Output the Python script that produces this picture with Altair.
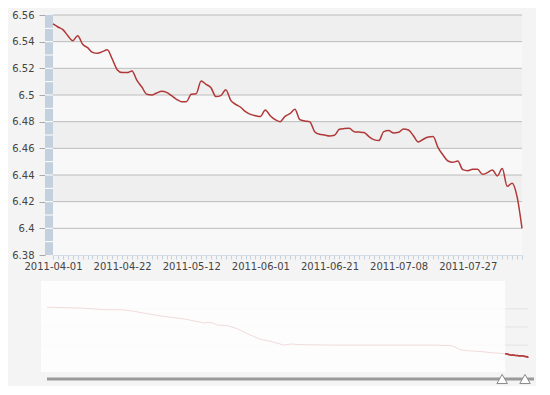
import json
import altair as alt
import pandas as pd

# ---------------- data ----------------
dates = [
    "2011-04-01", "2011-04-02", "2011-04-06", "2011-04-07", "2011-04-08",
    "2011-04-11", "2011-04-12", "2011-04-13", "2011-04-14", "2011-04-15",
    "2011-04-18", "2011-04-19", "2011-04-20", "2011-04-21", "2011-04-22",
    "2011-04-25", "2011-04-26", "2011-04-27", "2011-04-28", "2011-04-29",
    "2011-05-02", "2011-05-03", "2011-05-04", "2011-05-05", "2011-05-06",
    "2011-05-09", "2011-05-10", "2011-05-11", "2011-05-12", "2011-05-13",
    "2011-05-16", "2011-05-17", "2011-05-18", "2011-05-19", "2011-05-20",
    "2011-05-23", "2011-05-24", "2011-05-25", "2011-05-26", "2011-05-27",
    "2011-05-30", "2011-05-31", "2011-06-01", "2011-06-02", "2011-06-03",
    "2011-06-06", "2011-06-07", "2011-06-08", "2011-06-09", "2011-06-10",
    "2011-06-13", "2011-06-14", "2011-06-15", "2011-06-16", "2011-06-17",
    "2011-06-20", "2011-06-21", "2011-06-22", "2011-06-23", "2011-06-24",
    "2011-06-27", "2011-06-28", "2011-06-29", "2011-06-30", "2011-07-01",
    "2011-07-02", "2011-07-04", "2011-07-05", "2011-07-06", "2011-07-07",
    "2011-07-08", "2011-07-11", "2011-07-12", "2011-07-13", "2011-07-14",
    "2011-07-15", "2011-07-18", "2011-07-19", "2011-07-20", "2011-07-21",
    "2011-07-22", "2011-07-23", "2011-07-25", "2011-07-26", "2011-07-27",
    "2011-07-28", "2011-07-29", "2011-08-01", "2011-08-02", "2011-08-03",
    "2011-08-04", "2011-08-05", "2011-08-08", "2011-08-09", "2011-08-10",
    "2011-08-11",
]
rates = [
    6.5533, 6.5510, 6.5490, 6.5445, 6.5407, 6.5445, 6.5380, 6.5355, 6.5320, 6.5313,
    6.5325, 6.5340, 6.5270, 6.5190, 6.5168, 6.5168, 6.5180, 6.5110, 6.5060, 6.5005,
    6.5000, 6.5015, 6.5028, 6.5020, 6.4995, 6.4968, 6.4950, 6.4950, 6.5005, 6.5010,
    6.5105, 6.5080, 6.5055, 6.4988, 6.4995, 6.5040, 6.4960, 6.4930, 6.4908, 6.4875,
    6.4855, 6.4845, 6.4838, 6.4888, 6.4845, 6.4815, 6.4800, 6.4840, 6.4860, 6.4893,
    6.4815, 6.4805, 6.4800, 6.4725, 6.4705, 6.4700, 6.4693, 6.4698, 6.4743, 6.4748,
    6.4750, 6.4725, 6.4722, 6.4718, 6.4688, 6.4665, 6.4658, 6.4725, 6.4733, 6.4715,
    6.4720, 6.4745, 6.4738, 6.4695, 6.4648, 6.4668, 6.4685, 6.4688, 6.4605, 6.4550,
    6.4505, 6.4495, 6.4505, 6.4440, 6.4432, 6.4443, 6.4443, 6.4405, 6.4418, 6.4438,
    6.4393, 6.4448, 6.4315, 6.4338, 6.4238, 6.4000,
]
x_labels = ["2011-04-01", "2011-04-22", "2011-05-12", "2011-06-01",
            "2011-06-21", "2011-07-08", "2011-07-27"]
y_ticks = [6.38, 6.40, 6.42, 6.44, 6.46, 6.48, 6.50, 6.52, 6.54, 6.56]
bar_marks = [6.39, 6.40, 6.41, 6.42, 6.43, 6.44, 6.45, 6.46, 6.47,
             6.48, 6.49, 6.50, 6.51, 6.52, 6.53, 6.54, 6.55]
band_lo = [6.54, 6.50, 6.46, 6.42]
band_hi = [6.56, 6.52, 6.48, 6.44]

# longer history shown in the navigator
hist_dates = [
    "2004-01-02", "2004-07-15", "2004-11-25", "2005-03-20", "2005-05-18",
    "2005-10-05", "2005-12-18", "2006-03-03", "2006-06-25", "2006-08-05",
    "2006-09-13", "2006-11-10", "2007-01-07", "2007-03-07", "2007-05-21",
    "2007-07-17", "2007-10-01", "2007-11-10", "2008-01-08", "2008-06-28",
    "2009-04-12", "2010-02-14", "2010-05-22", "2010-06-10", "2010-07-20",
    "2010-08-29", "2010-11-14", "2011-01-27", "2011-03-20",
]
hist_rates = [
    8.27, 8.24, 8.18, 8.17, 8.12,
    7.96, 7.90, 7.84, 7.69, 7.71,
    7.61, 7.59, 7.47, 7.28, 7.08,
    7.01, 6.87, 6.91, 6.885, 6.87,
    6.87, 6.87, 6.85, 6.81, 6.69,
    6.66, 6.63, 6.58, 6.56,
]
nav_grid = [8.21, 7.54, 6.87]
nav_domain = [5.875, 9.24]

# ---------------- style ----------------
W, H = 469, 240
NH = 91
FONT = "DejaVu Sans"
LINE = "#b03838"
LABEL = "#444444"


def dt(s):
    y, m, d = (int(p) for p in s.split("-"))
    return alt.DateTime(year=y, month=m, date=d, utc=True)


main_df = pd.DataFrame({"day": dates, "rate": rates})
y_scale = alt.Scale(domain=[y_ticks[0], y_ticks[-1]], nice=False, zero=False)
y_axis = alt.Axis(values=y_ticks, format="~g", offset=8, tickSize=6,
                  tickColor="#a8a8a8", domain=False, grid=False,
                  labelFontSize=10, labelColor=LABEL, labelPadding=5,
                  labelFont=FONT, title=None)
label_list = json.dumps(x_labels)
x_axis = alt.Axis(title=None, labelAngle=0, labelOverlap=False,
                  labelExpr=f"indexof({label_list}, datum.value) >= 0 ? datum.value : ''",
                  tickSize=4, tickColor="#c4d2e0", domainColor="#d3dde8",
                  labelFontSize=10, labelColor=LABEL, labelPadding=2,
                  labelFont=FONT, grid=False)

one = pd.DataFrame({"a": [0]})

bg = alt.Chart(one).mark_rect(color="#f8f8f8").encode(
    x=alt.value(0), x2=alt.value(W), y=alt.value(0), y2=alt.value(H))

bands = alt.Chart(pd.DataFrame({"lo": band_lo, "hi": band_hi})).mark_rect(
    color="#efefef").encode(
    x=alt.value(0), x2=alt.value(W),
    y=alt.Y("lo:Q", scale=y_scale, axis=y_axis), y2="hi:Q")

grid = alt.Chart(pd.DataFrame({"v": y_ticks[1:]})).mark_rule(
    color="#bcbcbc", strokeWidth=1).encode(
    x=alt.value(0), x2=alt.value(W),
    y=alt.Y("v:Q", scale=y_scale, axis=y_axis))

bar = alt.Chart(pd.DataFrame({"lo": [y_ticks[0]], "hi": [y_ticks[-1]]})).mark_rect(
    color="#c3d1df").encode(
    x=alt.value(-8), x2=alt.value(0),
    y=alt.Y("lo:Q", scale=y_scale, axis=y_axis), y2="hi:Q")

bar_ticks = alt.Chart(pd.DataFrame({"v": bar_marks})).mark_rule(
    color="#ffffff", strokeWidth=1).encode(
    x=alt.value(-8), x2=alt.value(0),
    y=alt.Y("v:Q", scale=y_scale, axis=y_axis))

line = alt.Chart(main_df).mark_line(
    color=LINE, strokeWidth=1.5, interpolate="monotone").encode(
    x=alt.X("day:O", sort=None, scale=alt.Scale(type="point", padding=0), axis=x_axis),
    y=alt.Y("rate:Q", scale=y_scale, axis=y_axis))

main = alt.layer(bg, bands, grid, bar, bar_ticks, line).properties(width=W, height=H)

# ---------------- navigator ----------------
nav_df = pd.DataFrame({"date": hist_dates + dates, "rate": hist_rates + rates})
sel_df = pd.DataFrame({"sdate": dates, "srate": rates})
nav_x = alt.Scale(domain=[dt(hist_dates[0]), dt(dates[-1])], range=[-6, W + 6])
nav_y = alt.Scale(domain=nav_domain, nice=False, zero=False)

nav_gridlines = alt.Chart(pd.DataFrame({"v": nav_grid})).mark_rule(
    color="#e3e3e3", strokeWidth=1).encode(
    x=alt.value(-12), x2=alt.value(W + 6),
    y=alt.Y("v:Q", scale=nav_y, axis=None))

nav_line = alt.Chart(nav_df).mark_line(color=LINE, strokeWidth=1).encode(
    x=alt.X("date:T", scale=nav_x, axis=None),
    y=alt.Y("rate:Q", scale=nav_y, axis=None))

mask = alt.Chart(pd.DataFrame({"s": [hist_dates[0]], "e": [dates[0]]})).mark_rect(
    color="#ffffff", opacity=0.82, xOffset=-6).encode(
    x=alt.X("s:T", scale=nav_x, axis=None), x2="e:T",
    y=alt.value(0), y2=alt.value(NH))

nav_sel = alt.Chart(sel_df).mark_line(color=LINE, strokeWidth=1.5).encode(
    x=alt.X("sdate:T", scale=nav_x, axis=None),
    y=alt.Y("srate:Q", scale=nav_y, axis=None))

scrollbar = alt.Chart(one).mark_rule(color="#9a9a9a", strokeWidth=3).encode(
    x=alt.value(-6), x2=alt.value(W + 12), y=alt.value(NH + 7))

handles = alt.Chart(pd.DataFrame({"hdate": [dates[0], dates[-1]]})).mark_point(
    shape="triangle-up", filled=True, fill="#ffffff", stroke="#8a8a8a",
    strokeWidth=1, size=110, opacity=1, xOffset=-3).encode(
    x=alt.X("hdate:T", scale=nav_x, axis=None), y=alt.value(NH + 7))

nav = alt.layer(nav_gridlines, nav_line, mask, nav_sel, scrollbar, handles).properties(
    width=W, height=NH)

chart = alt.vconcat(main, nav, spacing=10).properties(
    padding={"left": 3, "top": 2, "right": 0, "bottom": 0}
).configure(background="#f4f4f4").configure_view(stroke=None)

chart.save("out.html", embed_options={"renderer": "svg", "actions": False})
